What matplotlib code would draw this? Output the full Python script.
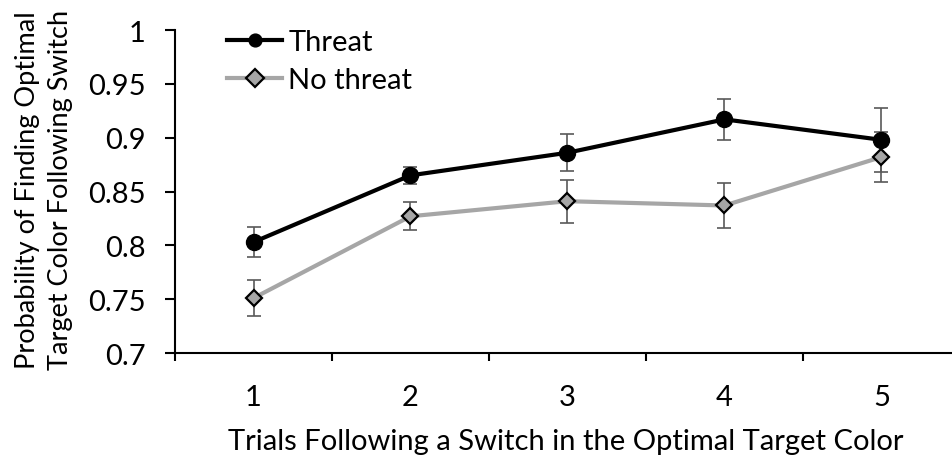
import numpy as np
import matplotlib.pyplot as plt

plt.rcParams['font.family'] = ['Lato', 'DejaVu Sans']

trials = [1, 2, 3, 4, 5]
threat = [0.803, 0.865, 0.886, 0.917, 0.898]
threat_err = [0.014, 0.008, 0.017, 0.019, 0.030]
no_threat = [0.751, 0.827, 0.841, 0.837, 0.882]
no_threat_err = [0.017, 0.013, 0.020, 0.021, 0.023]

W, H = 953, 460
fs = 21
fig = plt.figure(figsize=(W / 100, H / 100), dpi=100)
ax = fig.add_axes([175 / W, (H - 354) / H, 785 / W, 323 / H])

err_kw = dict(fmt='none', ecolor='#595959', elinewidth=1.2, capsize=4.7, capthick=1.2, zorder=2)
ax.errorbar(trials, threat, yerr=threat_err, **err_kw)
ax.errorbar(trials, no_threat, yerr=no_threat_err, **err_kw)

ax.plot(trials, threat, color='black', lw=3, marker='o', ms=11.5,
        mfc='black', mec='black', label='Threat', zorder=3)
ax.plot(trials, no_threat, color='#a6a6a6', lw=3, marker='D', ms=8,
        mfc='#a6a6a6', mec='black', mew=1.6, label='No threat', zorder=4)

ax.set_xlim(0.5, 5.5)
ax.set_ylim(0.7, 1.0)
ax.set_yticks(np.arange(0.7, 1.001, 0.05))
ax.set_yticklabels(['0.7', '0.75', '0.8', '0.85', '0.9', '0.95', '1'])
ax.set_xticks(trials)
ax.set_xticklabels([str(t) for t in trials])
ax.set_xticks(np.arange(0.5, 5.6, 1), minor=True)

for s in ['top', 'right']:
    ax.spines[s].set_visible(False)
for s in ['left', 'bottom']:
    ax.spines[s].set_linewidth(1.5)

ax.tick_params(axis='y', direction='out', length=7, width=1.5, labelsize=fs, pad=14)
ax.tick_params(axis='x', which='major', length=0, labelsize=fs, pad=22)
ax.tick_params(axis='x', which='minor', direction='out', length=6, width=1.5)

fig.text(566 / W, 1 - 442 / H, 'Trials Following a Switch in the Optimal Target Color',
         ha='center', va='center', fontsize=fs)
fig.text(44 / W, 1 - 190 / H, 'Probability of Finding Optimal\nTarget Color Following Switch',
         ha='center', va='center', rotation=90, fontsize=19.5, linespacing=1.4,
         multialignment='center')

leg = ax.legend(loc='upper left', bbox_to_anchor=(227 / W, 1 - 30 / H),
                bbox_transform=fig.transFigure, frameon=False, fontsize=fs,
                handlelength=1.9, handletextpad=0.2, labelspacing=0.42,
                borderpad=0, borderaxespad=0, markerscale=0.8)
# diamond in the legend a touch bigger than the scaled default
leg.legend_handles[1].set_markersize(9)

fig.savefig('out.png', dpi=100)
